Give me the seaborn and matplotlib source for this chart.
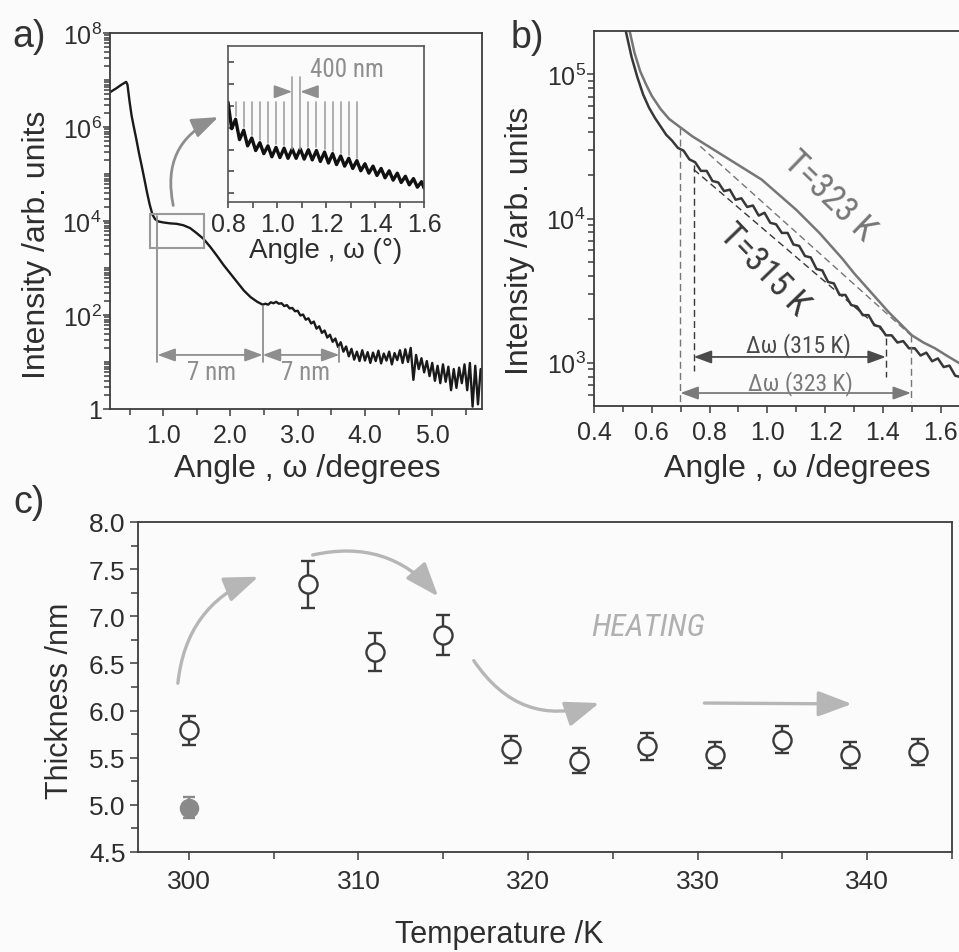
import numpy as np
import matplotlib
matplotlib.use('Agg')
import matplotlib.pyplot as plt
import matplotlib.font_manager as fm
from matplotlib.patches import Rectangle
from matplotlib.ticker import MultipleLocator, FixedLocator, NullFormatter, LogLocator, FormatStrFormatter
import seaborn as sns

# ---- panel a: reflectivity curve (log10 of intensity) ----
a_x = [0.21, 0.30, 0.38, 0.45, 0.47, 0.50, 0.53, 0.56, 0.60, 0.64, 0.68, 0.72, 0.76,
       0.80, 0.84, 0.88, 0.93, 1.00, 1.10, 1.20, 1.30, 1.40, 1.50, 1.60, 1.70, 1.80,
       1.90, 2.00, 2.10, 2.20, 2.30, 2.40, 2.48,
       2.52, 2.56, 2.60, 2.64, 2.68, 2.72, 2.76, 2.80, 2.84, 2.88, 2.92, 2.96, 3.00,
       3.04, 3.08, 3.12, 3.16, 3.20, 3.24, 3.28, 3.32, 3.36, 3.40, 3.44, 3.48, 3.52,
       3.56, 3.60, 3.64, 3.68, 3.72, 3.76, 3.80, 3.84, 3.88, 3.92, 3.96, 4.00, 4.04,
       4.08, 4.12, 4.16, 4.20, 4.24, 4.28, 4.32, 4.36, 4.40, 4.44, 4.48, 4.52, 4.56,
       4.60, 4.64, 4.68, 4.72, 4.76, 4.80, 4.84, 4.88, 4.92, 4.96, 5.00, 5.04, 5.08,
       5.12, 5.16, 5.20, 5.24, 5.28, 5.32, 5.36, 5.40, 5.44, 5.48, 5.52, 5.56, 5.60,
       5.64, 5.68, 5.72]
a_logI = [6.74, 6.82, 6.90, 6.96, 6.90, 6.55, 6.25, 6.03, 5.75, 5.45, 5.18, 4.90, 4.61,
          4.35, 4.14, 4.04, 3.99, 3.97, 3.95, 3.94, 3.91, 3.85, 3.74, 3.62, 3.45, 3.26,
          3.06, 2.88, 2.70, 2.52, 2.38, 2.28, 2.22,
          2.24, 2.22, 2.27, 2.25, 2.28, 2.24, 2.25, 2.19, 2.21, 2.14, 2.15, 2.08, 2.09,
          1.99, 2.01, 1.90, 1.93, 1.82, 1.86, 1.71, 1.76, 1.62, 1.67, 1.52, 1.58, 1.43,
          1.50, 1.32, 1.42, 1.22, 1.33, 1.12, 1.28, 1.05, 1.22, 1.02, 1.25, 1.03, 1.21,
          0.98, 1.20, 1.02, 1.24, 0.97, 1.18, 1.03, 1.22, 0.95, 1.19, 1.04, 1.25, 0.98,
          1.27, 1.00, 1.30, 0.62, 1.15, 0.85, 1.08, 0.78, 1.02, 0.70, 0.98, 0.60, 0.92,
          0.55, 0.95, 0.58, 0.90, 0.40, 0.85, 0.45, 0.88, 0.55, 0.95, 0.40, 0.98, 0.05,
          0.92, 0.10, 0.85]

# inset: Kiessig fringes (arbitrary linear units)
inset_x = [0.800, 0.815, 0.831, 0.847, 0.864, 0.880, 0.897, 0.913, 0.930, 0.946, 0.963,
           0.979, 0.996, 1.012, 1.029, 1.045, 1.062, 1.078, 1.095, 1.111, 1.128, 1.144,
           1.161, 1.177, 1.194, 1.210, 1.227, 1.243, 1.260, 1.276, 1.293, 1.309, 1.326,
           1.342, 1.359, 1.375, 1.392, 1.408, 1.425, 1.441, 1.458, 1.474, 1.491, 1.507,
           1.524, 1.540, 1.557, 1.573, 1.590, 1.600]
inset_y = [6.4, 4.7, 5.3, 4.0, 4.6, 3.6, 4.1, 3.3, 3.8, 3.1, 3.6, 2.9, 3.5, 2.85, 3.45,
           2.8, 3.4, 2.8, 3.4, 2.75, 3.35, 2.7, 3.3, 2.6, 3.2, 2.5, 3.1, 2.4, 2.95, 2.3,
           2.8, 2.15, 2.65, 2.0, 2.45, 1.85, 2.3, 1.7, 2.15, 1.55, 2.0, 1.4, 1.85, 1.25,
           1.65, 1.1, 1.5, 0.95, 1.3, 0.9]

# ---- panel b: two temperatures (log10 of intensity) ----
b323_x = [0.52, 0.54, 0.56, 0.58, 0.60, 0.63, 0.66, 0.70, 0.74, 0.78, 0.82, 0.86, 0.90,
          0.94, 0.98, 1.02, 1.06, 1.10, 1.14, 1.18, 1.22, 1.26, 1.30, 1.34, 1.38, 1.42,
          1.46, 1.50, 1.54, 1.58, 1.62, 1.67]
b323_logI = [5.33, 5.15, 5.02, 4.93, 4.85, 4.76, 4.69, 4.63, 4.57, 4.52, 4.47, 4.42, 4.37,
             4.32, 4.27, 4.20, 4.13, 4.06, 3.98, 3.90, 3.81, 3.72, 3.62, 3.53, 3.44, 3.35,
             3.27, 3.19, 3.14, 3.10, 3.05, 2.99]
b315_x = [0.51, 0.53, 0.55, 0.57, 0.59, 0.61, 0.63, 0.65, 0.67, 0.69, 0.71, 0.73, 0.75,
          0.77, 0.79, 0.81, 0.83, 0.85, 0.87, 0.89, 0.91, 0.93, 0.95, 0.97, 0.99, 1.01,
          1.03, 1.05, 1.07, 1.09, 1.11, 1.13, 1.15, 1.17, 1.19, 1.21, 1.23, 1.25, 1.27,
          1.29, 1.31, 1.33, 1.35, 1.37, 1.39, 1.41, 1.43, 1.45, 1.47, 1.49, 1.51, 1.53,
          1.55, 1.57, 1.59, 1.61, 1.63, 1.65, 1.67]
b315_logI = [5.30, 5.12, 4.98, 4.86, 4.77, 4.70, 4.64, 4.58, 4.54, 4.49, 4.47, 4.41, 4.39,
             4.33, 4.33, 4.26, 4.25, 4.19, 4.20, 4.13, 4.14, 4.08, 4.09, 4.02, 4.04, 3.97,
             3.96, 3.90, 3.90, 3.82, 3.81, 3.74, 3.73, 3.65, 3.64, 3.56, 3.55, 3.47, 3.47,
             3.40, 3.39, 3.33, 3.33, 3.26, 3.25, 3.19, 3.19, 3.14, 3.15, 3.10, 3.10, 3.05,
             3.07, 3.01, 3.03, 2.97, 2.98, 2.91, 2.90]
# delta-omega limits (deg) and tangent lines (x, log10 I)
dw315 = [0.745, 1.41]
dw323 = [0.699, 1.497]
tan315_x, tan315_logI = [0.745, 1.405], [4.34, 3.21]
tan323_x, tan323_logI = [0.768, 1.497], [4.50, 3.19]

# ---- panel c: thickness vs temperature ----
c_temp = [300, 307, 311, 315, 319, 323, 327, 331, 335, 339, 343]
c_thick = [5.79, 7.34, 6.62, 6.80, 5.59, 5.47, 5.62, 5.53, 5.69, 5.53, 5.56]
c_err = [0.15, 0.25, 0.20, 0.21, 0.145, 0.135, 0.145, 0.14, 0.145, 0.14, 0.14]
c0_temp, c0_thick, c0_err = [300], [4.97], [0.11]

panel_letters = ["a", "b", "c"]

# ---- style ----
sns.set_theme(style="ticks")
avail = {f.name for f in fm.fontManager.ttflist}
base_font = "Liberation Sans" if "Liberation Sans" in avail else "DejaVu Sans"
narrow = None
for cand in ["Liberation Sans Narrow", "Roboto Condensed", "Open Sans Condensed"]:
    if cand in avail:
        narrow = cand
        break
ns = 1.0 if narrow else 0.82
narrow = narrow or base_font
plt.rcParams["font.family"] = [base_font, "DejaVu Sans"]
plt.rcParams["mathtext.default"] = "regular"

BG = "#fbfbfb"
INK = "#2e2e2e"
SP = "#3c3c3c"
W, H = 959, 953

fig = plt.figure(figsize=(W / 100, H / 100), dpi=100, facecolor=BG)


def box(l, t, r, b):
    return [l / W, 1 - b / H, (r - l) / W, (b - t) / H]


def fx(px, py):
    return px / W, 1 - py / H


def style_ax(ax, lab, tlen=5, pad=2):
    ax.set_facecolor(BG)
    for s in ax.spines.values():
        s.set_color(SP)
        s.set_linewidth(1.3)
    ax.tick_params(which="both", direction="out", color=SP, width=1.1, labelsize=lab,
                   labelcolor=INK, pad=pad)
    ax.tick_params(which="major", length=tlen)
    ax.tick_params(which="minor", length=tlen - 1)


def sup(e):
    if e == 0:
        return "1"
    return "$\\mathregular{10^{%d}}$" % e


def dbl_arrow(ax, x0, x1, y, col, style="<|-|>"):
    ax.annotate("", xy=(x1, y), xytext=(x0, y),
                arrowprops=dict(arrowstyle=style + ",head_length=0.6,head_width=0.22",
                                color=col, lw=1.3, shrinkA=0, shrinkB=0,
                                mutation_scale=18))


# ================= panel a =================
axa = fig.add_axes(box(110, 34, 482, 410))
style_ax(axa, 18, 5, 1)
sns.lineplot(x=a_x, y=10 ** np.array(a_logI), ax=axa, color="#1a1a1a", lw=1.7,
             estimator=None, sort=False)
axa.set_yscale("log")
axa.set_xlim(0.21, 5.74)
axa.set_ylim(1, 1e8)
axa.xaxis.set_major_locator(FixedLocator([1, 2, 3, 4, 5]))
axa.set_xticklabels(["1.0", "2.0", "3.0", "4.0", "5.0"])
axa.xaxis.set_minor_locator(MultipleLocator(0.5))
axa.yaxis.set_major_locator(FixedLocator([1, 1e2, 1e4, 1e6, 1e8]))
axa.set_yticklabels([sup(e) for e in [0, 2, 4, 6, 8]])
axa.yaxis.set_minor_locator(LogLocator(base=10, subs=np.arange(1, 10), numticks=100))
axa.yaxis.set_minor_formatter(NullFormatter())
axa.tick_params(axis="x", pad=5)
axa.set_xlabel("")
axa.set_ylabel("")

GA = "#8e8e8e"
axa.add_patch(Rectangle((0.8, 10 ** 3.42), 0.8, 10 ** 4.15 - 10 ** 3.42, fill=False,
                        ec="#9a9a9a", lw=1.5, zorder=4))
for xv, top in [(0.915, 4.11), (2.48, 2.2), (3.62, 1.31)]:
    axa.plot([xv, xv], [10 ** 0.99, 10 ** top], color=GA, lw=1.3)
dbl_arrow(axa, 0.915, 2.48, 10 ** 1.15, GA)
dbl_arrow(axa, 2.48, 3.62, 10 ** 1.15, GA)
axa.text(1.72, 10 ** 0.78, "7 nm", ha="center", va="center", color=GA,
         fontsize=18 * ns, family=narrow)
axa.text(3.11, 10 ** 0.78, "7 nm", ha="center", va="center", color=GA,
         fontsize=18 * ns, family=narrow)
axa.annotate("", xy=(1.82, 10 ** 6.21), xytext=(1.15, 10 ** 4.33),
             arrowprops=dict(arrowstyle="-|>,head_length=0.8,head_width=0.3",
                             color=GA, lw=2.0, shrinkA=0, shrinkB=0, mutation_scale=20,
                             connectionstyle="arc3,rad=-0.4"))

# inset
axi = fig.add_axes(box(228, 47, 424, 203))
style_ax(axi, 18, 4, 3)
sns.lineplot(x=inset_x, y=inset_y, ax=axi, color="#111111", lw=2.4,
             estimator=None, sort=False)
axi.set_xlim(0.8, 1.6)
axi.set_ylim(0, 10)
axi.xaxis.set_major_locator(MultipleLocator(0.2))
axi.xaxis.set_major_formatter(FormatStrFormatter("%.1f"))
axi.xaxis.set_minor_locator(MultipleLocator(0.1))
axi.set_yticks(np.arange(0.56, 10, 1.4))
axi.set_yticklabels([])
axi.tick_params(axis="y", direction="in", length=4)
axi.tick_params(axis="x", which="both", length=4)
for s in axi.spines.values():
    s.set_color("#555555")
    s.set_linewidth(1.2)
axi.set_xlabel("Angle , ω (°)", fontsize=20, color=INK, labelpad=1)
axi.set_ylabel("")
LC = "#a0a0a0"
for i in range(2, 33, 2):
    xv = inset_x[i]
    if i in (16, 18):
        axi.plot([xv, xv], [8.0, inset_y[i]], color=LC, lw=1.2)
    else:
        axi.plot([xv, xv], [6.4, inset_y[i] + 0.2], color=LC, lw=1.2)
dbl_arrow(axi, 0.992, 1.062, 7.07, GA, style="-|>")
dbl_arrow(axi, 1.165, 1.095, 7.07, GA, style="-|>")
axi.text(1.284, 8.5, "400 nm", ha="center", va="center", color=GA,
         fontsize=18 * ns, family=narrow)

fig.text(*fx(37, 245), "Intensity /arb. units", rotation=90, ha="center", va="center",
         fontsize=23, color=INK)
fig.text(*fx(307, 477), "Angle , ω /degrees", ha="center", va="baseline",
         fontsize=23, color=INK)

# ================= panel b =================
axb = fig.add_axes(box(594, 32, 961, 407))
style_ax(axb, 18, 5, 1)
C323, C315 = "#767676", "#383838"
sns.lineplot(x=b323_x, y=10 ** np.array(b323_logI), ax=axb, color=C323, lw=1.8,
             estimator=None, sort=False)
sns.lineplot(x=b315_x, y=10 ** np.array(b315_logI), ax=axb, color=C315, lw=1.8,
             estimator=None, sort=False)
axb.set_yscale("log")
axb.set_xlim(0.4, 1.67)
axb.set_ylim(10 ** 2.70, 10 ** 5.30)
axb.spines["right"].set_visible(False)
axb.xaxis.set_major_locator(MultipleLocator(0.2))
axb.xaxis.set_major_formatter(FormatStrFormatter("%.1f"))
axb.xaxis.set_minor_locator(MultipleLocator(0.1))
axb.yaxis.set_major_locator(FixedLocator([1e3, 1e4, 1e5]))
axb.set_yticklabels([sup(e) for e in [3, 4, 5]])
axb.yaxis.set_minor_locator(LogLocator(base=10, subs=np.arange(2, 10), numticks=100))
axb.yaxis.set_minor_formatter(NullFormatter())
axb.tick_params(axis="x", pad=5)
axb.set_xlabel("")
axb.set_ylabel("")

dash = dict(ls=(0, (5, 3)), lw=1.0)
axb.plot(tan323_x, 10 ** np.array(tan323_logI), color=C323, **dash)
axb.plot(tan315_x, 10 ** np.array(tan315_logI), color=C315, **dash)
axb.plot([dw323[0]] * 2, [10 ** 4.63, 10 ** 2.73], color=C323, **dash)
axb.plot([dw323[1]] * 2, [10 ** 3.19, 10 ** 2.73], color=C323, **dash)
axb.plot([dw315[0]] * 2, [10 ** 4.37, 10 ** 2.94], color=C315, **dash)
axb.plot([dw315[1]] * 2, [10 ** 3.17, 10 ** 2.90], color=C315, **dash)
dbl_arrow(axb, dw315[0], dw315[1], 10 ** 3.04, "#4a4a4a")
dbl_arrow(axb, dw323[0], dw323[1], 10 ** 2.79, "#7a7a7a")
axb.text(1.109, 10 ** 3.125, "Δω (315 K)", ha="center", va="center", color="#4a4a4a",
         fontsize=17 * ns, family=narrow)
axb.text(1.115, 10 ** 2.865, "Δω (323 K)", ha="center", va="center", color="#7a7a7a",
         fontsize=17 * ns, family=narrow)
axb.text(1.215, 10 ** 4.16, "T=323 K", rotation=-44, ha="center", va="center",
         color=C323, fontsize=25 * ns, family=narrow, rotation_mode="anchor")
axb.text(0.988, 10 ** 3.65, "T=315 K", rotation=-46, ha="center", va="center",
         color=C315, fontsize=25 * ns, family=narrow, rotation_mode="anchor")

fig.text(*fx(520, 241), "Intensity /arb. units", rotation=90, ha="center", va="center",
         fontsize=23, color=INK)
fig.text(*fx(797, 477), "Angle , ω /degrees", ha="center", va="baseline",
         fontsize=23, color=INK)

# ================= panel c =================
axc = fig.add_axes(box(138, 523, 952, 853))
style_ax(axc, 19, 6, 3)
axc.errorbar(c_temp, c_thick, yerr=c_err, fmt="none", ecolor="#3a3a3a", elinewidth=1.7,
             capsize=5, capthick=1.7, zorder=2)
axc.errorbar(c0_temp, c0_thick, yerr=c0_err, fmt="none", ecolor="#8a8a8a",
             elinewidth=1.7, capsize=4, capthick=1.7, zorder=2)
sns.scatterplot(x=c_temp, y=c_thick, ax=axc, marker="o", s=170, color=BG,
                edgecolor="#3a3a3a", linewidth=1.7, zorder=3)
sns.scatterplot(x=c0_temp, y=c0_thick, ax=axc, marker="o", s=170, color="#8a8a8a",
                edgecolor="#8a8a8a", linewidth=1.0, zorder=3)
axc.set_xlim(297, 345)
axc.set_ylim(4.5, 8.0)
axc.xaxis.set_major_locator(MultipleLocator(10))
axc.xaxis.set_minor_locator(MultipleLocator(5))
axc.yaxis.set_major_locator(MultipleLocator(0.5))
axc.yaxis.set_major_formatter(FormatStrFormatter("%.1f"))
axc.yaxis.set_minor_locator(MultipleLocator(0.25))
axc.tick_params(axis="x", pad=6)
axc.set_xlabel("")
axc.set_ylabel("")

AC = "#b6b6b6"
curved = [((299.35, 6.29), (304.1, 7.42), -0.3),
          ((307.3, 7.65), (314.7, 7.21), -0.3),
          ((316.8, 6.53), (324.2, 6.08), 0.38),
          ((330.4, 6.08), (339.1, 6.07), 0.0)]
for start, end, rad in curved:
    axc.annotate("", xy=end, xytext=start,
                 arrowprops=dict(arrowstyle="-|>,head_length=0.8,head_width=0.3",
                                 color=AC, lw=2.4, shrinkA=0, shrinkB=0,
                                 mutation_scale=26,
                                 connectionstyle="arc3,rad=%s" % rad))
axc.text(327.1, 6.89, "HEATING", ha="center", va="center", color="#b0b0b0",
         fontsize=23 * ns, family=narrow, style="italic")

fig.text(*fx(60, 701), "Thickness /nm", rotation=90, ha="center", va="center",
         fontsize=22, color=INK)
fig.text(*fx(499, 943), "Temperature /K", ha="center", va="baseline",
         fontsize=22, color=INK)

# panel letters
letter_pos = [(29, 37), (527, 38), (29, 503)]
for letter, (px, py) in zip(panel_letters, letter_pos):
    fig.text(*fx(px, py), letter + chr(41), ha="center", va="center", fontsize=27,
             color="#333333")

fig.savefig("out.png", dpi=100, facecolor=BG)
